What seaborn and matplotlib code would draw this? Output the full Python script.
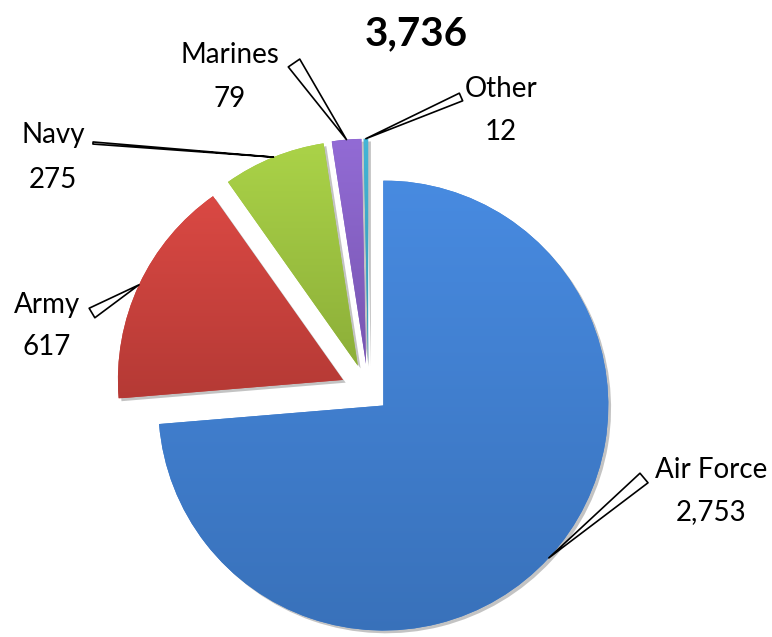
import numpy as np
import matplotlib
matplotlib.use("Agg")
import matplotlib.pyplot as plt
import matplotlib.patheffects as pe
from matplotlib.colors import to_rgb
import seaborn as sns

# data
branches = ["Air Force", "Army", "Navy", "Marines", "Other"]
counts = [2753, 617, 275, 79, 12]
count_labels = ["2,753", "617", "275", "79", "12"]
total_label = "3,736"

explode = [0.09, 0.125, 0.125, 0.125, 0.125]
colors = ["#3f7ecf", "#c9403b", "#9cc23f", "#8560c4", "#3aa6c6"]

# layout of the original picture, in pixels
W, H = 772, 637
R = 225.0
CX, CY = 368.4, 391.8

# label centre / baseline, value baseline, leader tail (pixels)
name_pos = [(711, 478), (47, 313), (53, 143), (230, 63), (501, 97)]
value_base = [520, 355, 188, 107, 140]
tail_pos = [(644, 478), (92, 313), (93, 143), (294, 63), (461, 97)]
tail_widths = [0.9, 0.8, 0.15, 1.0, 0.6]


def px(x, y):
    return (x - CX) / R, (CY - y) / R


sns.set_theme(style="white")
plt.rcParams["font.family"] = ["Lato", "DejaVu Sans"]

fig = plt.figure(figsize=(W / 100, H / 100), dpi=100)
ax = fig.add_axes([0, 0, 1, 1])

wedges, _ = ax.pie(
    counts,
    explode=explode,
    colors=colors,
    startangle=90,
    counterclock=False,
    radius=1,
    wedgeprops=dict(linewidth=0),
)

# light vertical shading on each slice + soft shadow
grad = np.linspace(0, 1, 256)[:, None, None]
for w, c in zip(wedges, colors):
    base = np.array(to_rgb(c))
    top = np.clip(base * 1.06 + 0.02, 0, 1)
    bottom = base * 0.90
    img = top[None, None, :] * (1 - grad) + bottom[None, None, :] * grad
    ext = w.get_path().get_extents()
    im = ax.imshow(img, extent=(ext.x0, ext.x1, ext.y0, ext.y1),
                   aspect="auto", interpolation="bicubic",
                   zorder=w.get_zorder() + 0.1)
    im.set_clip_path(w)
    w.set_path_effects([pe.withSimplePatchShadow(offset=(2, -2),
                                                 shadow_rgbFace="#555555",
                                                 alpha=0.35)])

# labels with wedge-shaped leaders
for w, name, val, npos, vb, tail, tw in zip(
        wedges, branches, count_labels, name_pos, value_base, tail_pos, tail_widths):
    mid = np.deg2rad((w.theta1 + w.theta2) / 2)
    cx, cy = w.center
    head = (cx + w.r * np.cos(mid), cy + w.r * np.sin(mid))
    ax.annotate(
        "", xy=head, xytext=px(*tail),
        arrowprops=dict(arrowstyle=f"wedge,tail_width={tw},shrink_factor=0.5",
                        fc="white", ec="black", lw=1.2,
                        shrinkA=0, shrinkB=0, mutation_scale=10),
        annotation_clip=False, zorder=5,
    )
    ax.text(*px(*npos), name, ha="center", va="baseline", fontsize=20, color="black")
    ax.text(*px(npos[0], vb), val, ha="center", va="baseline", fontsize=20, color="black")

ax.text(*px(416, 45), total_label, ha="center", va="baseline",
        fontsize=29, fontweight="bold", color="black")

x0, y1 = px(0, 0)
x1, y0 = px(W, H)
ax.set_xlim(x0, x1)
ax.set_ylim(y0, y1)
ax.set_aspect("auto")
ax.axis("off")

fig.savefig("out.png", dpi=100)
